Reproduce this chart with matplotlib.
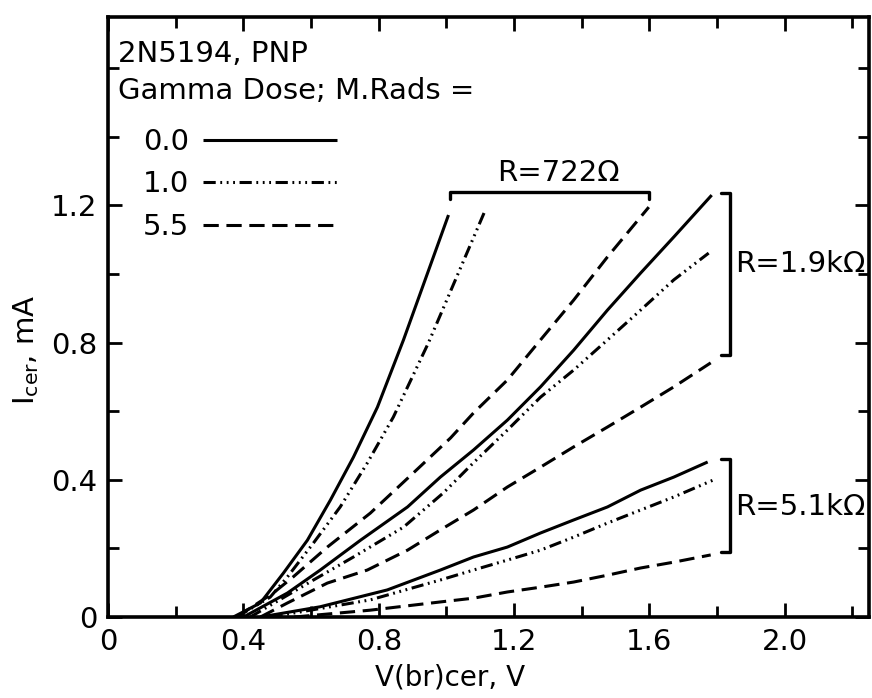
import matplotlib
matplotlib.use("Agg")
import matplotlib.pyplot as plt
from matplotlib.ticker import MultipleLocator, FuncFormatter

plt.rcParams['font.family'] = ['DejaVu Sans']
plt.rcParams['mathtext.fontset'] = 'dejavusans'

# V(br)cer [V] / Icer [mA], R = 722 ohm
v_722_d00 = [0.37, 0.45, 0.518, 0.589, 0.657, 0.725, 0.796, 0.873, 1.006]
i_722_d00 = [0.0, 0.041, 0.128, 0.224, 0.341, 0.466, 0.612, 0.808, 1.172]
v_722_d10 = [0.38, 0.479, 0.53, 0.607, 0.686, 0.766, 0.843, 0.947, 1.115]
i_722_d10 = [0.0, 0.058, 0.117, 0.216, 0.321, 0.449, 0.583, 0.80, 1.187]
v_722_d55 = [0.38, 0.488, 0.547, 0.648, 0.775, 0.902, 1.012, 1.08, 1.18, 1.278, 1.376, 1.476, 1.598]
i_722_d55 = [0.0, 0.07, 0.117, 0.204, 0.303, 0.42, 0.522, 0.595, 0.691, 0.808, 0.924, 1.05, 1.195]

# R = 1.9 kohm
v_19k_d00 = [0.40, 0.53, 0.627, 0.746, 0.885, 0.982, 1.08, 1.18, 1.278, 1.376, 1.476, 1.574, 1.672, 1.784]
i_19k_d00 = [0.0, 0.07, 0.137, 0.224, 0.321, 0.408, 0.487, 0.574, 0.671, 0.778, 0.895, 1.003, 1.108, 1.23]
v_19k_d10 = [0.42, 0.607, 0.725, 0.873, 0.991, 1.08, 1.18, 1.278, 1.376, 1.476, 1.574, 1.672, 1.775]
i_19k_d10 = [0.0, 0.108, 0.175, 0.262, 0.362, 0.45, 0.545, 0.641, 0.72, 0.808, 0.895, 0.983, 1.061]
v_19k_d55 = [0.45, 0.53, 0.648, 0.766, 0.885, 0.982, 1.08, 1.18, 1.278, 1.376, 1.476, 1.574, 1.672, 1.781]
i_19k_d55 = [0.0, 0.041, 0.099, 0.137, 0.195, 0.254, 0.312, 0.379, 0.437, 0.496, 0.554, 0.612, 0.671, 0.741]

# R = 5.1 kohm
v_51k_d00 = [0.45, 0.627, 0.825, 0.982, 1.08, 1.18, 1.278, 1.376, 1.476, 1.574, 1.672, 1.772]
i_51k_d00 = [0.0, 0.03, 0.079, 0.137, 0.175, 0.204, 0.245, 0.283, 0.321, 0.37, 0.408, 0.452]
v_51k_d10 = [0.48, 0.775, 0.982, 1.08, 1.18, 1.278, 1.376, 1.476, 1.574, 1.672, 1.79]
i_51k_d10 = [0.0, 0.05, 0.108, 0.137, 0.166, 0.195, 0.233, 0.274, 0.312, 0.35, 0.40]
v_51k_d55 = [0.55, 0.775, 0.982, 1.08, 1.18, 1.278, 1.376, 1.476, 1.574, 1.672, 1.781]
i_51k_d55 = [0.0, 0.02, 0.044, 0.055, 0.073, 0.087, 0.102, 0.122, 0.143, 0.16, 0.181]

doses = ['0.0', '1.0', '5.5']

solid = '-'
dashdot3 = (0, (4, 1.5, 0.6, 1.5, 0.6, 1.5, 0.6, 1.5))
dashed = (0, (5, 2.5))
styles = [solid, dashdot3, dashed]

fig = plt.figure(figsize=(8.72, 6.98), dpi=100)
ax = fig.add_axes([0.124, 0.116, 0.873, 0.86])

curves = [
    [(v_722_d00, i_722_d00), (v_722_d10, i_722_d10), (v_722_d55, i_722_d55)],
    [(v_19k_d00, i_19k_d00), (v_19k_d10, i_19k_d10), (v_19k_d55, i_19k_d55)],
    [(v_51k_d00, i_51k_d00), (v_51k_d10, i_51k_d10), (v_51k_d55, i_51k_d55)],
]
handles = []
for g, group in enumerate(curves):
    for k, (v, i) in enumerate(group):
        ln, = ax.plot(v, i, color='black', lw=2.2, ls=styles[k],
                      solid_capstyle='butt', dash_capstyle='butt',
                      solid_joinstyle='round')
        if g == 0:
            handles.append(ln)

ax.set_xlim(0, 2.25)
ax.set_ylim(0, 1.75)

for s in ax.spines.values():
    s.set_linewidth(2.6)

ax.xaxis.set_major_locator(MultipleLocator(0.4))
ax.xaxis.set_minor_locator(MultipleLocator(0.2))
ax.yaxis.set_major_locator(MultipleLocator(0.4))
ax.yaxis.set_minor_locator(MultipleLocator(0.2))
fmt = FuncFormatter(lambda x, p: '0' if abs(x) < 1e-9 else '%.1f' % x)
ax.xaxis.set_major_formatter(fmt)
ax.yaxis.set_major_formatter(fmt)
ax.set_xticks([0, 0.4, 0.8, 1.2, 1.6, 2.0])
ax.set_yticks([0, 0.4, 0.8, 1.2])
ax.tick_params(which='both', direction='in', top=True, right=True,
               width=2, labelsize=21, pad=8)
ax.tick_params(which='major', length=10)
ax.tick_params(which='minor', length=8)

ax.set_xlabel('V(br)cer, V', fontsize=20)
ax.xaxis.set_label_coords(0.449, -0.078)
ax.set_ylabel(r'I$_{\rm cer}$, mA', fontsize=21)
ax.yaxis.set_label_coords(-0.088, 0.445)

# header and dose key
ax.text(0.013, 0.962, '2N5194, PNP', transform=ax.transAxes,
        fontsize=21, va='top', ha='left')
ax.text(0.013, 0.899, 'Gamma Dose; M.Rads =', transform=ax.transAxes,
        fontsize=21, va='top', ha='left')
ax.legend(handles, doses, loc='upper left', bbox_to_anchor=(0.045, 0.815),
          frameon=False, markerfirst=False, fontsize=21, handlelength=4.6,
          handletextpad=0.5, labelspacing=0.5, borderpad=0, borderaxespad=0)

# resistance brackets
bk = dict(color='black', lw=2.4, solid_capstyle='round')
ax.plot([1.01, 1.01, 1.60, 1.60], [1.22, 1.24, 1.24, 1.22], **bk)
ax.text(1.33, 1.255, 'R=722Ω', fontsize=21, ha='center', va='bottom')
ax.plot([1.81, 1.837, 1.837, 1.81], [1.236, 1.236, 0.764, 0.764], **bk)
ax.text(1.852, 1.03, 'R=1.9kΩ', fontsize=21, ha='left', va='center',
        clip_on=False)
ax.plot([1.81, 1.837, 1.837, 1.81], [0.46, 0.46, 0.19, 0.19], **bk)
ax.text(1.852, 0.32, 'R=5.1kΩ', fontsize=21, ha='left', va='center',
        clip_on=False)

fig.savefig('out.png', dpi=100)
